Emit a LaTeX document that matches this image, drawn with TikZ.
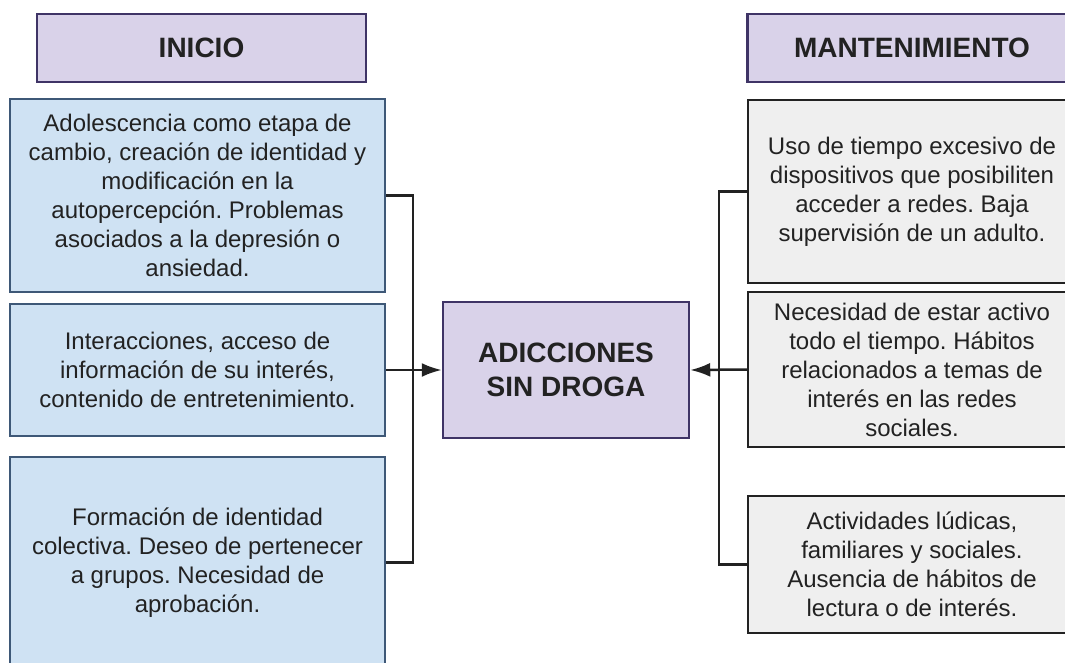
\documentclass[tikz,border=0pt]{standalone}
\usepackage{fontspec}
\setmainfont{Liberation Sans}
\frenchspacing
\usetikzlibrary{arrows.meta}
\definecolor{lila}{HTML}{D9D2E9}
\definecolor{bordelila}{HTML}{3F3466}
\definecolor{celeste}{HTML}{CFE2F3}
\definecolor{bordeceleste}{HTML}{3E5877}
\definecolor{gris}{HTML}{EFEFEF}
\definecolor{tinta}{HTML}{222222}

\begin{document}
\begin{tikzpicture}[x=1pt,y=-1pt,
		caja/.style={line width=2.5pt, inner sep=0pt, align=center, text=tinta,
			font=\fontsize{24}{29}\selectfont},
		titulo/.style={caja, draw=bordelila, fill=lila, minimum width=329pt,
			minimum height=68pt, font=\fontsize{28}{34}\selectfont\bfseries},
		inicio/.style={caja, draw=bordeceleste, fill=celeste, minimum width=375pt},
		mant/.style={caja, draw=tinta, fill=gris, minimum width=328pt},
		linea/.style={line width=2.5pt, draw=tinta},
		flecha/.style={linea, -{Latex[length=20pt,width=14pt]}}]
		\useasboundingbox (0,0) rectangle (1065,663);
		\clip (0,0) rectangle (1065,663);
		\fill[white] (0,0) rectangle (1065,663);

		\path	(201.5,48) node[titulo](tini) {INICIO}
			(912,48) node[titulo](tmant) {MANTENIMIENTO};

		\path	(197.5,195.5) node[inicio, minimum height=193pt](a1)
				{Adolescencia como etapa de\\cambio, creación de identidad y\\modificación en la\\autopercepción. Problemas\\asociados a la depresión o\\ansiedad.}
			(197.5,370) node[inicio, minimum height=132pt](a2)
				{Interacciones, acceso de\\información de su interés,\\contenido de entretenimiento.}
			(197.5,562.5) node[inicio, minimum height=211pt](a3)
				{Formación de identidad\\colectiva. Deseo de pertenecer\\a grupos. Necesidad de\\aprobación.};

		\path	(912,191.5) node[mant, minimum height=183pt](b1)
				{Uso de tiempo excesivo de\\dispositivos que posibiliten\\acceder a redes. Baja\\supervisión de un adulto.}
			(912,369.5) node[mant, minimum height=155pt](b2)
				{Necesidad de estar activo\\todo el tiempo. Hábitos\\relacionados a temas de\\interés en las redes\\sociales.}
			(912,564.5) node[mant, minimum height=137pt](b3)
				{Actividades lúdicas,\\familiares y sociales.\\Ausencia de hábitos de\\lectura o de interés.};

		\path	(566,370) node[titulo, minimum width=246pt, minimum height=136pt](adic)
				{ADICCIONES\\SIN DROGA};

		\coordinate (bizq) at (413,370);
		\coordinate (bder) at (719,370);
		\foreach \n in {a1,a3}
			\draw[linea] (\n.east) -| (bizq);
		\foreach \n in {b1,b3}
			\draw[linea] (\n.west) -| (bder);
		\draw[flecha] (a2.east) -- (adic.west);
		\draw[flecha] (b2.west) -- (adic.east);
	\end{tikzpicture}
\end{document}
